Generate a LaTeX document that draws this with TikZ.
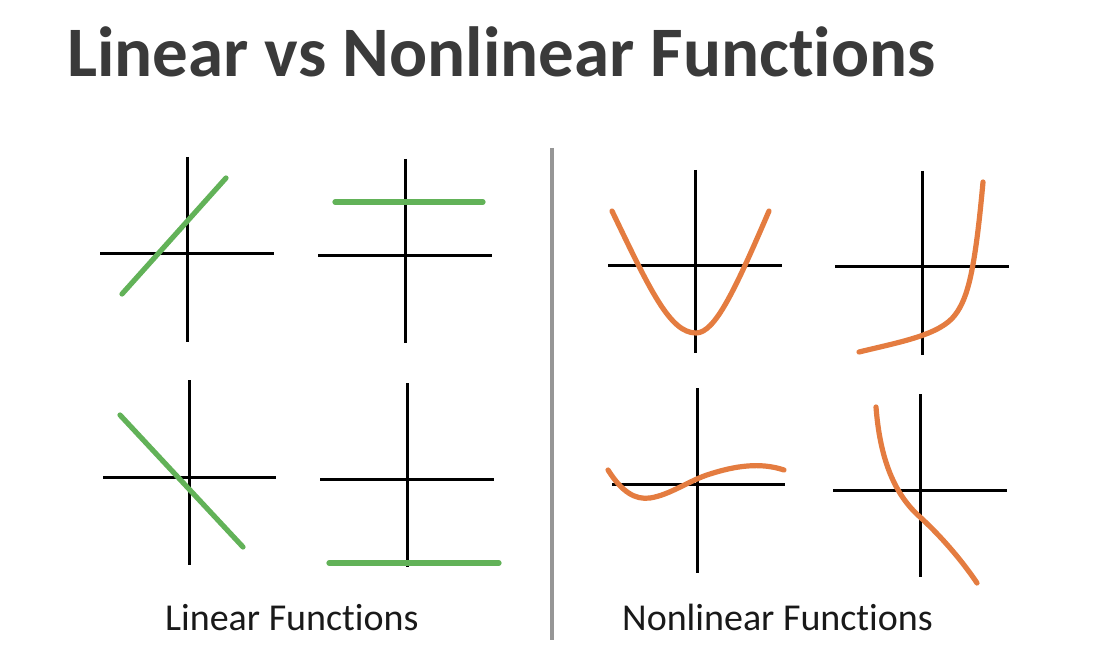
\documentclass[tikz,border=0pt]{standalone}
\usepackage{fontspec}
\setmainfont[Ligatures=NoCommon]{Carlito}
\definecolor{lgreen}{RGB}{98,178,88}
\definecolor{lorange}{RGB}{228,124,64}
\definecolor{titlegray}{RGB}{58,58,58}
\definecolor{divgray}{RGB}{150,150,150}
\begin{document}
\begin{tikzpicture}[x=1pt,y=-1pt,
  axis/.style={line width=3pt, black},
  lin/.style={line width=5.2pt, lgreen, line cap=round},
  nonlin/.style={line width=5.2pt, lorange, line cap=round, line join=round},
  lab/.style={anchor=base west, inner sep=0pt, text=black!90, font=\fontsize{38}{40}\selectfont}]
\useasboundingbox[fill=white] (0,0) rectangle (1100,660);
% title
\node[anchor=base west, inner sep=0pt, text=titlegray, font=\fontsize{71}{73}\selectfont\bfseries] (title) at (67,77) {Linear vs Nonlinear Functions};
% divider
\draw[divgray, line width=3.5pt] (552,148) -- (552,640);
% linear: top-left
\draw[axis] (187,157) -- (187,342);
\draw[axis] (100,254) -- (274,254);
\draw[lin] (122,294) -- (226,178);
% linear: top-right
\draw[axis] (405,159) -- (405,343);
\draw[axis] (318,256) -- (492,256);
\draw[lin] (335,202) -- (483,202);
% linear: bottom-left
\draw[axis] (189,380) -- (189,565);
\draw[axis] (103,477) -- (276,477);
\draw[lin] (120,415) -- (243,547);
% linear: bottom-right
\draw[axis] (407,383) -- (407,567);
\draw[axis] (320,479) -- (494,479);
\draw[lin] (329,563) -- (499,563);
% nonlinear: top-left (parabola)
\draw[axis] (695,170) -- (695,353);
\draw[axis] (608,266) -- (782,266);
\draw[nonlin] (612,211) .. controls (650,290) and (670,333) .. (696,333)
  .. controls (715,333) and (735,290) .. (769,211);
% nonlinear: top-right
\draw[axis] (922,171) -- (922,355);
\draw[axis] (835,267) -- (1009,267);
\draw[nonlin] (859,352) .. controls (900,342) and (940,335) .. (955,315)
  .. controls (968,298) and (975,270) .. (983,182);
% nonlinear: bottom-left
\draw[axis] (697,388) -- (697,573);
\draw[axis] (612,484) -- (785,484);
\draw[nonlin] (608,470) .. controls (622,492) and (635,500) .. (650,498)
  .. controls (670,495) and (690,480) .. (710,474)
  .. controls (735,466) and (760,462) .. (784,470);
% nonlinear: bottom-right
\draw[axis] (920,394) -- (920,577);
\draw[axis] (833,490) -- (1007,490);
\draw[nonlin] (876,407) .. controls (880,460) and (895,495) .. (920,517)
  .. controls (945,540) and (965,565) .. (977,583);
% labels
\node[lab] (linlab) at (165,630) {Linear Functions};
\node[lab] (nonlinlab) at (622,630) {Nonlinear Functions};
\end{tikzpicture}
\end{document}
